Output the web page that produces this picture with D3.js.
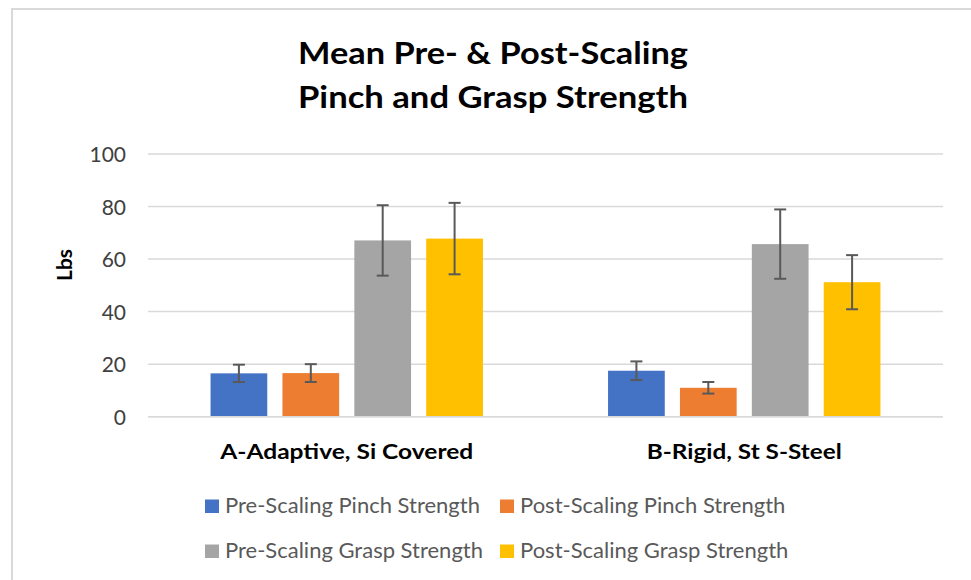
<!DOCTYPE html>
<html>
<head>
<meta charset="utf-8">
<script src="https://cdn.jsdelivr.net/npm/d3@7"></script>
<style>
  html, body { margin: 0; padding: 0; background: #fff; }
  svg { display: block; }
  text { font-family: Lato, "Open Sans", sans-serif; }
</style>
</head>
<body>
<svg id="chart" width="971" height="580"></svg>
<script>
// ---- data ----
const categories = ["A-Adaptive, Si Covered", "B-Rigid, St S-Steel"];
const seriesNames = ["Pre-Scaling Pinch Strength", "Post-Scaling Pinch Strength",
                     "Pre-Scaling Grasp Strength", "Post-Scaling Grasp Strength"];
const prePinch   = [16.5, 17.5];
const postPinch  = [16.6, 11.0];
const preGrasp   = [67.1, 65.7];
const postGrasp  = [67.8, 51.2];
const prePinchErr  = [3.3, 3.55];
const postPinchErr = [3.4, 2.2];
const preGraspErr  = [13.4, 13.2];
const postGraspErr = [13.6, 10.3];
const yTicks = [0, 20, 40, 60, 80, 100];
const titleLines = ["Mean Pre- & Post-Scaling", "Pinch and Grasp Strength"];
const yTitle = "Lbs";

const colors = ["#4472C4", "#ED7D31", "#A5A5A5", "#FFC000"];
const values = [prePinch, postPinch, preGrasp, postGrasp];
const errors = [prePinchErr, postPinchErr, preGraspErr, postGraspErr];

const svg = d3.select("#chart");

// frame
svg.append("rect").attr("x", 12).attr("y", 9).attr("width", 1000).attr("height", 1000)
  .attr("fill", "#fff").attr("stroke", "#d9d9d9").attr("stroke-width", 2);

const plot = { left: 148, right: 943, top: 154, bottom: 416.7 };

const x0 = d3.scaleBand().domain(categories).range([plot.left, plot.right]).padding(0);
const x1 = d3.scaleBand().domain(seriesNames).range([0, x0.bandwidth()])
  .paddingInner(0.211).paddingOuter(0.87);
const y = d3.scaleLinear().domain([0, 100]).range([plot.bottom, plot.top]);

// gridlines
svg.append("g").selectAll("line").data(yTicks).join("line")
  .attr("x1", plot.left).attr("x2", plot.right)
  .attr("y1", d => y(d)).attr("y2", d => y(d))
  .attr("stroke", "#d9d9d9").attr("stroke-width", 1.5);

// y axis labels
const yAxis = d3.axisLeft(y).tickValues(yTicks).tickSize(0).tickPadding(0);
const gy = svg.append("g").attr("transform", `translate(126,0)`).call(yAxis);
gy.select(".domain").remove();
gy.selectAll("text").attr("font-family", "Lato, 'Open Sans', sans-serif")
  .attr("font-size", 21).attr("fill", "#404040").attr("dy", "0.36em");

// bars
const rows = [];
categories.forEach((c, i) => seriesNames.forEach((s, j) => {
  rows.push({ cat: c, ser: s, v: values[j][i], e: errors[j][i], color: colors[j] });
}));

svg.append("g").selectAll("rect").data(rows).join("rect")
  .attr("x", d => x0(d.cat) + x1(d.ser))
  .attr("width", x1.bandwidth())
  .attr("y", d => y(d.v))
  .attr("height", d => y(0) - y(d.v))
  .attr("fill", d => d.color);

// baseline axis
svg.append("line").attr("x1", plot.left).attr("x2", plot.right)
  .attr("y1", y(0)).attr("y2", y(0)).attr("stroke", "#d9d9d9").attr("stroke-width", 1.5);

// error bars
const eg = svg.append("g").attr("stroke", "#595959").attr("stroke-width", 2);
rows.forEach(d => {
  const cx = x0(d.cat) + x1(d.ser) + x1.bandwidth() / 2;
  eg.append("line").attr("x1", cx).attr("x2", cx).attr("y1", y(d.v + d.e)).attr("y2", y(d.v - d.e));
  eg.append("line").attr("x1", cx - 6).attr("x2", cx + 6).attr("y1", y(d.v + d.e)).attr("y2", y(d.v + d.e));
  eg.append("line").attr("x1", cx - 6).attr("x2", cx + 6).attr("y1", y(d.v - d.e)).attr("y2", y(d.v - d.e));
});

// category labels
const catWidths = [253, 195];
svg.append("g").selectAll("text").data(categories).join("text")
  .attr("x", d => x0(d) + x0.bandwidth() / 2)
  .attr("y", 459)
  .attr("text-anchor", "middle")
  .attr("font-size", 21).attr("font-weight", "bold").attr("fill", "#000")
  .attr("textLength", (d, i) => catWidths[i]).attr("lengthAdjust", "spacingAndGlyphs")
  .text(d => d);

// title
svg.append("g").selectAll("text").data(titleLines).join("text")
  .attr("x", 493).attr("y", (d, i) => 64 + i * 44)
  .attr("text-anchor", "middle")
  .attr("font-size", 31).attr("font-weight", "bold").attr("fill", "#000")
  .attr("textLength", 390).attr("lengthAdjust", "spacingAndGlyphs")
  .text(d => d);

// y title
svg.append("text").attr("transform", "translate(72,265) rotate(-90)")
  .attr("text-anchor", "middle").attr("font-size", 21).attr("font-weight", "bold")
  .attr("fill", "#000").text(yTitle);

// legend
const legPos = [[205, 513], [500, 513], [205, 558], [500, 558]];
const lg = svg.append("g").selectAll("g").data(seriesNames).join("g")
  .attr("transform", (d, i) => `translate(${legPos[i][0]},${legPos[i][1]})`);
lg.append("rect").attr("x", 0).attr("y", -13.5).attr("width", 14).attr("height", 13.5)
  .attr("fill", (d, i) => colors[i]);
lg.append("text").attr("x", 20).attr("y", 0).attr("font-size", 22).attr("fill", "#595959")
  .text(d => d);
</script>
</body>
</html>
